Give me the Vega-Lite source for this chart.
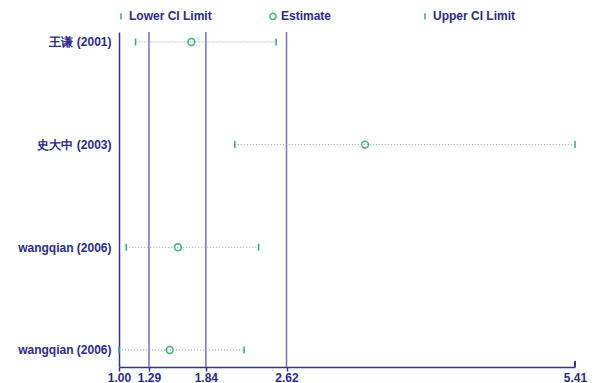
{
  "$schema": "https://vega.github.io/schema/vega-lite/v6.json",
  "width": 456,
  "height": 335,
  "autosize": {"type": "none"},
  "padding": {"left": 119, "top": 32, "right": 23, "bottom": 16},
  "background": "white",
  "config": {
    "view": {"stroke": null},
    "font": "Liberation Sans"
  },
  "datasets": {
    "studies": [
      {"row": 0, "study": "王谦 (2001)", "lo": 1.16, "est": 1.70, "hi": 2.52},
      {"row": 1, "study": "史大中 (2003)", "lo": 2.12, "est": 3.38, "hi": 5.41},
      {"row": 2, "study": "wangqian (2006)", "lo": 1.07, "est": 1.57, "hi": 2.35},
      {"row": 3, "study": "wangqian (2006)", "lo": 1.00, "est": 1.49, "hi": 2.21}
    ],
    "refs": [{"v": 1.29}, {"v": 1.84}, {"v": 2.62}]
  },
  "layer": [
    {
      "data": {"name": "refs"},
      "mark": {"type": "rule", "color": "#7b6fc0", "strokeWidth": 1.5},
      "encoding": {
        "x": {"field": "v", "type": "quantitative"}
      }
    },
    {
      "data": {"name": "refs"},
      "mark": {"type": "rule", "color": "#3a3090", "strokeWidth": 1.5},
      "encoding": {
        "x": {"datum": 5.41},
        "y": {"datum": 3.108},
        "y2": {"datum": 3.166}
      }
    },
    {
      "data": {"name": "studies"},
      "mark": {"type": "rule", "color": "#9090b8", "strokeWidth": 1, "strokeDash": [1, 2]},
      "encoding": {
        "x": {
          "field": "lo", "type": "quantitative",
          "scale": {"domain": [1, 5.41], "nice": false, "zero": false},
          "axis": {
            "values": [1, 1.29, 1.84, 2.62, 5.41],
            "format": ".2f",
            "title": null,
            "grid": false,
            "domainColor": "#3a3090",
            "domainWidth": 1.5,
            "tickColor": "#3a3090",
            "tickWidth": 1.5,
            "tickSize": 4,
            "tickOpacity": {"condition": {"test": "datum.value === 5.41", "value": 0}, "value": 1},
            "labelFont": "Liberation Sans",
            "labelFontSize": 12,
            "labelFontWeight": "bold",
            "labelColor": "#2b2b88",
            "labelPadding": 1,
            "labelFlush": false,
            "labelOverlap": false
          }
        },
        "x2": {"field": "hi"},
        "y": {
          "field": "row", "type": "quantitative",
          "scale": {"domain": [-0.097, 3.166], "reverse": true, "nice": false, "zero": false},
          "axis": {
            "values": [0, 1, 2, 3],
            "labelExpr": "['王谦 (2001)', '史大中 (2003)', 'wangqian (2006)', 'wangqian (2006)'][datum.value]",
            "title": null,
            "grid": false,
            "ticks": false,
            "domainColor": "#3a3090",
            "domainWidth": 1.5,
            "labelFont": "Liberation Sans",
            "labelFontSize": 12,
            "labelFontWeight": "bold",
            "labelColor": "#2b2b88",
            "labelPadding": 8
          }
        }
      }
    },
    {
      "data": {"name": "studies"},
      "mark": {"type": "point", "filled": false, "size": 49, "strokeWidth": 1.5, "opacity": 1},
      "encoding": {
        "x": {"field": "lo", "type": "quantitative"},
        "y": {"field": "row", "type": "quantitative"},
        "shape": {"datum": "Lower CI Limit"},
        "color": {"datum": "Lower CI Limit"}
      }
    },
    {
      "data": {"name": "studies"},
      "mark": {"type": "point", "filled": false, "size": 48, "strokeWidth": 1.5, "opacity": 1},
      "encoding": {
        "x": {"field": "est", "type": "quantitative"},
        "y": {"field": "row", "type": "quantitative"},
        "shape": {"datum": "Estimate"},
        "color": {"datum": "Estimate"}
      }
    },
    {
      "data": {"name": "studies"},
      "mark": {"type": "point", "filled": false, "size": 49, "strokeWidth": 1.5, "opacity": 1},
      "encoding": {
        "x": {"field": "hi", "type": "quantitative"},
        "y": {"field": "row", "type": "quantitative"},
        "shape": {
          "datum": "Upper CI Limit",
          "scale": {
            "domain": ["Lower CI Limit", "Estimate", "Upper CI Limit"],
            "range": ["M0,-1L0,1", "circle", "M0,-1L0,1"]
          },
          "legend": {
            "title": null,
            "orient": "none",
            "legendX": -4,
            "legendY": -22,
            "direction": "horizontal",
            "columns": 3,
            "gridAlign": "all",
            "columnPadding": 54,
            "symbolSize": 40,
            "symbolStrokeWidth": 1.5,
            "labelFont": "Liberation Sans",
            "labelFontSize": 12,
            "labelFontWeight": "bold",
            "labelColor": "#2b2b88",
            "labelOffset": 2
          }
        },
        "color": {
          "datum": "Upper CI Limit",
          "scale": {
            "domain": ["Lower CI Limit", "Estimate", "Upper CI Limit"],
            "range": ["#2fae6e", "#3cb878", "#2fae6e"]
          }
        }
      }
    }
  ]
}
